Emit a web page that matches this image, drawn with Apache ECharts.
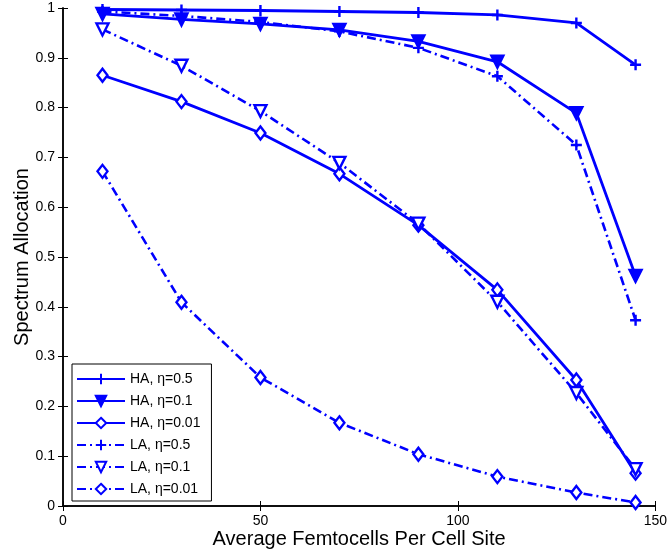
<!DOCTYPE html>
<html>
<head>
<meta charset="utf-8">
<script src="https://cdn.jsdelivr.net/npm/echarts@6/dist/echarts.min.js"></script>
<style>
html,body{margin:0;padding:0;background:#fff;}
#chart{width:670px;height:558px;}
</style>
</head>
<body>
<div id="chart"></div>
<script>
var xValues = [10, 30, 50, 70, 90, 110, 130, 145];
var seriesNames = ['HA, η=0.5', 'HA, η=0.1', 'HA, η=0.01', 'LA, η=0.5', 'LA, η=0.1', 'LA, η=0.01'];
var HA_05  = [0.997, 0.996, 0.995, 0.993, 0.991, 0.986, 0.970, 0.886];
var HA_01  = [0.988, 0.977, 0.968, 0.956, 0.933, 0.892, 0.789, 0.462];
var HA_001 = [0.865, 0.812, 0.749, 0.667, 0.564, 0.434, 0.253, 0.066];
var LA_05  = [0.993, 0.984, 0.972, 0.953, 0.920, 0.863, 0.725, 0.373];
var LA_01  = [0.957, 0.884, 0.793, 0.689, 0.567, 0.410, 0.227, 0.074];
var LA_001 = [0.672, 0.409, 0.258, 0.167, 0.104, 0.059, 0.027, 0.007];
var xTicks = [0, 50, 100, 150];

var BLUE = '#0000ff';
var FONT = 'Liberation Sans, Arial, sans-serif';
var PLUS = 'path://M5,0L5,10M0,5L10,5';

function pairs(vals) { return xValues.map(function (x, i) { return [x, vals[i]]; }); }

function mk(name, vals, dashed, symbol, filled, size, rotate) {
  return {
    name: name,
    type: 'line',
    data: pairs(vals),
    symbol: symbol,
    symbolSize: size,
    symbolRotate: rotate || 0,
    showSymbol: true,
    lineStyle: { color: BLUE, width: dashed ? 2.6 : 2.8, type: dashed ? [9, 4, 2, 4] : 'solid' },
    itemStyle: { color: filled ? BLUE : '#ffffff', borderColor: BLUE, borderWidth: 2.4 }
  };
}

var chart = echarts.init(document.getElementById('chart'), null, { renderer: 'canvas' });
var axisLineStyle = { color: '#000', width: 1.5 };
chart.setOption({
  animation: false,
  backgroundColor: '#fff',
  textStyle: { fontFamily: FONT },
  grid: { left: 63, right: 11, top: 8, bottom: 52, containLabel: false },
  legend: {
    orient: 'vertical',
    left: 72, top: 364,
    padding: [8, 11, 5, 4],
    itemGap: 8,
    itemWidth: 48,
    itemHeight: 13,
    backgroundColor: '#fff',
    borderColor: '#000',
    borderWidth: 1,
    textStyle: { fontFamily: FONT, fontSize: 14, color: '#000' },
    data: seriesNames
  },
  xAxis: [{
    type: 'value', min: 0, max: 150, interval: 50,
    name: 'Average Femtocells Per Cell Site',
    nameLocation: 'middle', nameGap: 23, nameMoveOverlap: false,
    nameTextStyle: { fontFamily: FONT, fontSize: 20, color: '#000' },
    axisLine: { show: true, lineStyle: axisLineStyle },
    axisTick: { show: true, inside: true, length: 5, lineStyle: { color: '#000' } },
    axisLabel: { fontFamily: FONT, fontSize: 14, color: '#000', margin: 8,
      formatter: function (v) { return xTicks.indexOf(v) >= 0 ? String(v) : ''; } },
    splitLine: { show: false }
  }, {
    type: 'value', min: 0, max: 150, interval: 50, position: 'top',
    axisLine: { show: true, lineStyle: axisLineStyle },
    axisTick: { show: true, inside: true, length: 5, lineStyle: { color: '#000' } },
    axisLabel: { show: false },
    splitLine: { show: false }
  }],
  yAxis: [{
    type: 'value', min: 0, max: 1, interval: 0.1,
    name: 'Spectrum Allocation',
    nameLocation: 'middle', nameGap: 31, nameMoveOverlap: false,
    nameTextStyle: { fontFamily: FONT, fontSize: 20, color: '#000' },
    axisLine: { show: true, lineStyle: axisLineStyle },
    axisTick: { show: true, inside: true, length: 5, lineStyle: { color: '#000' } },
    axisLabel: { fontFamily: FONT, fontSize: 14, color: '#000', margin: 8,
      formatter: function (v) { return String(Math.round(v * 10) / 10); } },
    splitLine: { show: false }
  }, {
    type: 'value', min: 0, max: 1, interval: 0.1, position: 'right',
    axisLine: { show: true, lineStyle: axisLineStyle },
    axisTick: { show: true, inside: true, length: 5, lineStyle: { color: '#000' } },
    axisLabel: { show: false },
    splitLine: { show: false }
  }],
  series: [
    mk(seriesNames[0], HA_05, false, PLUS, false, 11, 0),
    mk(seriesNames[1], HA_01, false, 'triangle', true, 12, 180),
    mk(seriesNames[2], HA_001, false, 'diamond', false, [10, 13], 0),
    mk(seriesNames[3], LA_05, true, PLUS, false, 11, 0),
    mk(seriesNames[4], LA_01, true, 'triangle', false, 12, 180),
    mk(seriesNames[5], LA_001, true, 'diamond', false, [10, 13], 0)
  ]
});
</script>
</body>
</html>
